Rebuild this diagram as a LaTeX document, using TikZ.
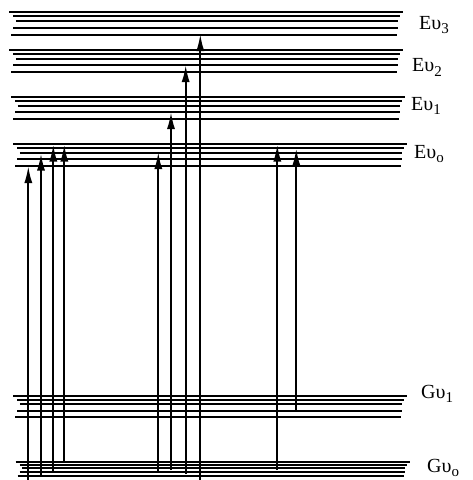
\documentclass[tikz,border=0pt]{standalone}
\usepackage{fontspec}
\setmainfont{Liberation Serif}
\usetikzlibrary{arrows.meta}
\newcommand{\vsub}[1]{\raisebox{-4.5pt}{\fontsize{15}{15}\selectfont #1}}

\begin{document}
\begin{tikzpicture}[x=1pt, y=-1pt]
\tikzstyle{level} = [draw, line width=2pt]
\tikzstyle{line} = [draw, line width=2pt, -{Latex[length=17pt, width=8pt]}]
\tikzstyle{state} = [anchor=base west, inner sep=0pt, font=\fontsize{20}{22}\selectfont]

\useasboundingbox (0,0) rectangle (472,480);

% vibrational levels of each band
\foreach \ty/\lx/\rx/\sc in {12/9.3/403/1.08, 50/9.3/403/1, 97/11/405/1, 144/13.3/407/1, 395.5/13.3/407/1, 462/15.7/410/0.65}
  \foreach \dy/\dl/\dr in {0/0/0, 4/4/-3, 8.5/6.5/-5, 15/4/-5, 21.5/2/-6}
    \draw[level] ({\lx+\dl}, {\ty+\sc*\dy}) -- ({\rx+\dr}, {\ty+\sc*\dy});

\node[state] (Ev3) at (419,29) {Eυ\vsub{3}};
\node[state] (Ev2) at (412,71.5) {Eυ\vsub{2}};
\node[state] (Ev1) at (411,110) {Eυ\vsub{1}};
\node[state] (Evo) at (414,158) {Eυ\vsub{o}};
\node[state] (Gv1) at (421,398) {Gυ\vsub{1}};
\node[state] (Gvo) at (427,472) {Gυ\vsub{o}};

% transitions
\foreach \n/\xx/\ya/\yb in {1/28.3/480/166, 2/41/476/153.5, 3/53.3/472/144.5, 4/64.3/462/144.5, 5/158.3/472/152, 6/171/470/112, 7/185.7/474/65, 8/200.3/480/34, 9/277.3/470/144.5, 10/296.3/410/148.5} {
  \coordinate (s\n) at (\xx,\ya);
  \coordinate (t\n) at (\xx,\yb);
  \path[line] (s\n) -- (t\n);
}

\end{tikzpicture}
\end{document}
